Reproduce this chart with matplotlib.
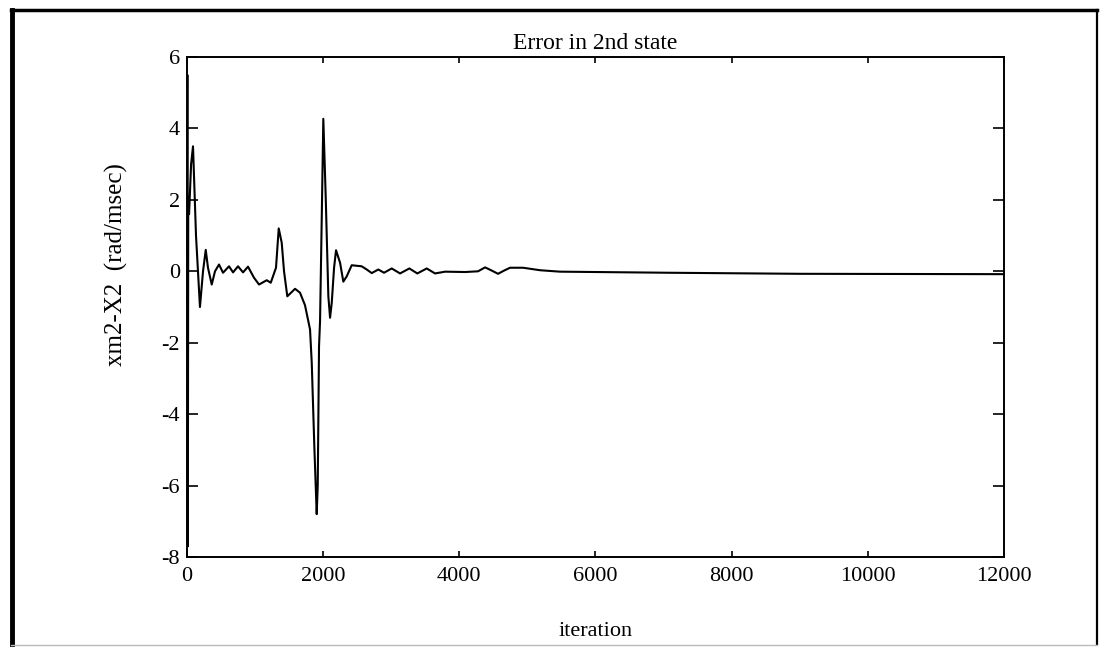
import matplotlib
matplotlib.use('Agg')
import matplotlib.pyplot as plt
from matplotlib.lines import Line2D

plt.rcParams['font.family'] = ['Liberation Serif', 'DejaVu Serif']
plt.rcParams['axes.unicode_minus'] = False

# error in 2nd state
iteration = [0, 5, 12, 18, 30, 60, 88, 132, 190, 235, 275, 308, 363, 411, 470,
             529, 617, 676, 749, 823, 896, 984, 1058, 1171, 1230, 1307, 1347,
             1391, 1425, 1473, 1587, 1660, 1733, 1807, 1832, 1870, 1905, 1920,
             1939, 1954, 1979, 2002, 2037, 2076, 2101, 2126, 2160, 2189, 2248,
             2296, 2346, 2419, 2566, 2640, 2713, 2810, 2894, 3007, 3129, 3266,
             3383, 3521, 3643, 3790, 4084, 4275, 4378, 4466, 4569, 4657, 4745,
             4936, 5186, 5479, 7051, 9005, 12000]
error = [0.0, 5.5, -7.7, 2.0, 1.6, 3.0, 3.5, 1.0, -1.0, 0.0, 0.6, 0.1, -0.37,
         0.0, 0.19, -0.04, 0.14, -0.03, 0.14, -0.03, 0.13, -0.18, -0.37, -0.25,
         -0.32, 0.1, 1.2, 0.8, 0.0, -0.7, -0.49, -0.6, -0.95, -1.63, -2.56,
         -4.9, -6.8, -6.0, -2.1, -1.4, 1.5, 4.27, 2.1, -0.7, -1.3, -0.88, 0.1,
         0.59, 0.24, -0.29, -0.14, 0.17, 0.14, 0.05, -0.05, 0.05, -0.04, 0.08,
         -0.06, 0.08, -0.06, 0.08, -0.06, -0.01, -0.02, 0.0, 0.11, 0.03, -0.07,
         0.02, 0.1, 0.1, 0.03, -0.01, -0.04, -0.07, -0.08]

x_ticks = [0, 2000, 4000, 6000, 8000, 10000, 12000]
y_ticks = [-8, -6, -4, -2, 0, 2, 4, 6]

fig = plt.figure(figsize=(11.04, 6.54), dpi=100)
ax = fig.add_axes([0.1694, 0.1483, 0.74, 0.7645])

ax.plot(iteration, error, color='black', lw=1.5)
ax.set_xlim(0, 12000)
ax.set_ylim(-8, 6)
ax.set_xticks(x_ticks)
ax.set_yticks(y_ticks)
ax.tick_params(direction='in', width=1.2, labelsize=16, top=True, right=True)
ax.tick_params(axis='y', length=8, pad=5)
ax.tick_params(axis='x', length=4, pad=7)
for s in ax.spines.values():
    s.set_linewidth(1.4)

ax.set_title('Error in 2nd state', fontsize=17, pad=6)
ax.set_xlabel('iteration', fontsize=16, labelpad=26)
ax.set_ylabel('xm2-X2  (rad/msec)', fontsize=18)
ax.yaxis.set_label_coords(-0.072, 0.584)

# outer frame of the scanned page
fig.add_artist(Line2D([0.011, 0.011], [0.015, 0.985], color='black', lw=3.5))
fig.add_artist(Line2D([0.01, 0.994], [0.984, 0.984], color='black', lw=2.5))
fig.add_artist(Line2D([0.994, 0.994], [0.015, 0.985], color='black', lw=1.6))
fig.add_artist(Line2D([0.01, 0.994], [0.013, 0.013], color='#bbbbbb', lw=1.0))

fig.savefig('out.png', dpi=100)
